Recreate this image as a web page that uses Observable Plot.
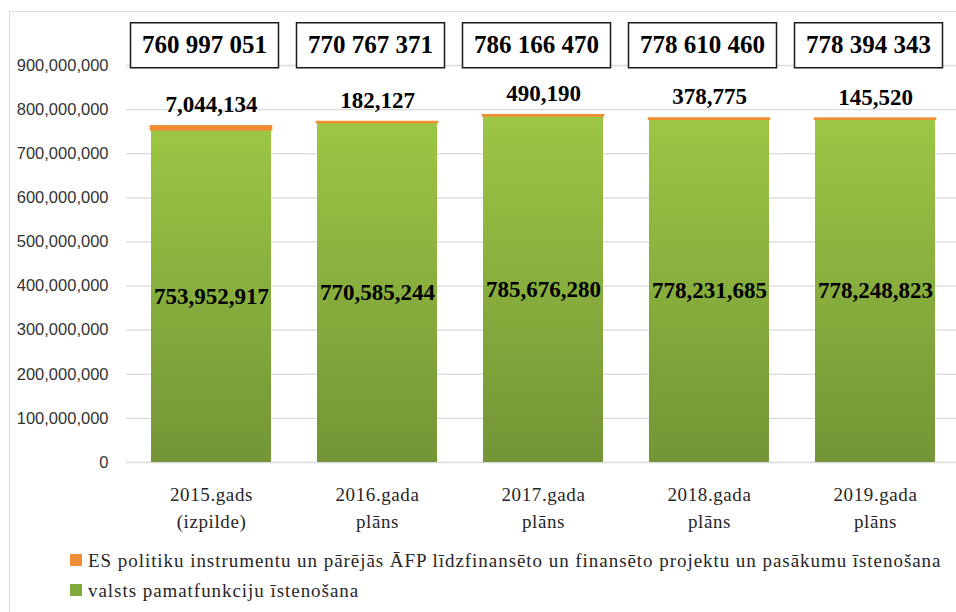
<!DOCTYPE html>
<html>
<head>
<meta charset="utf-8">
<script src="https://cdn.jsdelivr.net/npm/d3@7"></script>
<script src="https://cdn.jsdelivr.net/npm/@observablehq/plot@0.6"></script>
<style>
  html, body { margin: 0; padding: 0; background: #fff; }
  #wrap { position: relative; width: 956px; height: 612px; overflow: hidden; font-family: 'Liberation Serif'; }
  #wrap svg text, #wrap svg tspan { font-family: 'Liberation Serif'; }
  #wrap svg g.yaxis text { font-family: 'Liberation Sans'; }
  #wrap svg g.xaxis text { letter-spacing: 0.6px; }
  #frame { position: absolute; left: 9px; top: 11px; width: 1000px; height: 700px; border: 1px solid #d9d9d9; box-sizing: border-box; }
  #chart { position: absolute; left: 0; top: 0; }
  .legend { position: absolute; left: 70px; font-family: 'Liberation Serif'; font-size: 19px; letter-spacing: 0.95px; color: #262626; white-space: nowrap; }
  .legend span.sw { display: inline-block; width: 12px; height: 12px; margin-right: 6px; vertical-align: 1px; }
</style>
</head>
<body>
<div id="wrap">
  <div id="frame"></div>
  <div id="chart"></div>
</div>
<script>
const categories = ["2015.gads\n(izpilde)", "2016.gada\nplāns", "2017.gada\nplāns", "2018.gada\nplāns", "2019.gada\nplāns"];
const greenValues = [753952917, 770585244, 785676280, 778231685, 778248823];
const orangeValues = [7044134, 182127, 490190, 378775, 145520];
const totals = [760997051, 770767371, 786166470, 778610460, 778394343];
const yTicks = [0, 100000000, 200000000, 300000000, 400000000, 500000000, 600000000, 700000000, 800000000, 900000000];
const seriesNames = [
  "ES politiku instrumentu un pārējās ĀFP līdzfinansēto un finansēto projektu un pasākumu īstenošana",
  "valsts pamatfunkciju īstenošana"
];
const colors = { orange: "#F08C33", greenTop: "#9CC644", greenBottom: "#739536" };
const serif = "Liberation Serif";

const data = categories.map((c, i) => ({
  cat: c, green: greenValues[i], orange: orangeValues[i], total: totals[i]
}));

const comma = d3.format(",");
const spaced = v => comma(v).replace(/,/g, " ");

const chart = Plot.plot({
  width: 956,
  height: 540,
  marginLeft: 126,
  marginRight: 0,
  marginTop: 65,
  marginBottom: 78,
  style: { fontFamily: serif, fontSize: "19px", color: "#262626", background: "transparent" },
  x: { domain: categories, range: [126, 960], paddingInner: 0.28, paddingOuter: 0.14, label: null },
  y: { domain: [0, 900000000], label: null },
  marks: [
    Plot.gridY(yTicks, { stroke: "#d9d9d9", strokeOpacity: 1, strokeWidth: 1.3 }),
    Plot.axisY(yTicks, { tickSize: 0, tickPadding: 18, tickFormat: comma, fontFamily: "Liberation Sans", fontSize: 16.5, fill: "#333", className: "yaxis" }),
    Plot.axisX({ tickSize: 0, tickPadding: 19, lineHeight: 1.42, fill: "#262626", fontSize: 19, className: "xaxis" }),
    Plot.barY(data, { x: "cat", y1: 0, y2: "green", fill: "url(#gGreen)" }),
    Plot.barY(data, { x: "cat", y1: "green", y2: d => d.green + d.orange, fill: colors.orange, stroke: colors.orange, strokeWidth: 2.5 }),
    Plot.text(data, { x: "cat", y: d => d.green / 2, text: d => comma(d.green), fontWeight: "bold", fontSize: 23, fill: "#000" }),
    Plot.text(data, { x: "cat", y: d => d.green + d.orange, dy: -22, text: d => comma(d.orange), fontWeight: "bold", fontSize: 23, fill: "#000" }),
    Plot.text(data, { x: "cat", frameAnchor: "top", dy: -30.5, dx: -7, text: d => spaced(d.total), fontWeight: "bold", fontSize: 25, fill: "#000", className: "totals" })
  ]
});

// gradient definition for the green bars
const ns = "http://www.w3.org/2000/svg";
const defs = document.createElementNS(ns, "defs");
const grad = document.createElementNS(ns, "linearGradient");
grad.setAttribute("id", "gGreen");
grad.setAttribute("x1", "0"); grad.setAttribute("y1", "0");
grad.setAttribute("x2", "0"); grad.setAttribute("y2", "1");
[[0, colors.greenTop], [1, colors.greenBottom]].forEach(([o, c]) => {
  const s = document.createElementNS(ns, "stop");
  s.setAttribute("offset", o); s.setAttribute("stop-color", c);
  grad.appendChild(s);
});
defs.appendChild(grad);
chart.insertBefore(defs, chart.firstChild);

document.getElementById("chart").appendChild(chart);

// boxes around the totals
const tg = chart.querySelector("g.totals");
if (tg) {
  tg.querySelectorAll("text").forEach(t => {
    const b = t.getBBox();
    const tr = t.getAttribute("transform");
    const r = document.createElementNS(ns, "rect");
    const cx = b.x + b.width / 2, cy = b.y + b.height / 2;
    const w = 148, h = 45;
    r.setAttribute("x", cx - w / 2);
    r.setAttribute("y", cy - h / 2 + 1);
    r.setAttribute("width", w);
    r.setAttribute("height", h);
    r.setAttribute("fill", "#fff");
    r.setAttribute("stroke", "#1a1a1a");
    r.setAttribute("stroke-width", "1.5");
    if (tr) r.setAttribute("transform", tr);
    tg.insertBefore(r, t);
  });
}

// legend
const wrap = document.getElementById("wrap");
[[seriesNames[0], colors.orange, 550], [seriesNames[1], "#82A93C", 580]].forEach(([name, col, top]) => {
  const d = document.createElement("div");
  d.className = "legend";
  d.style.top = top + "px";
  const sw = document.createElement("span");
  sw.className = "sw";
  sw.style.background = col;
  d.appendChild(sw);
  d.appendChild(document.createTextNode(name));
  wrap.appendChild(d);
});
</script>
</body>
</html>
